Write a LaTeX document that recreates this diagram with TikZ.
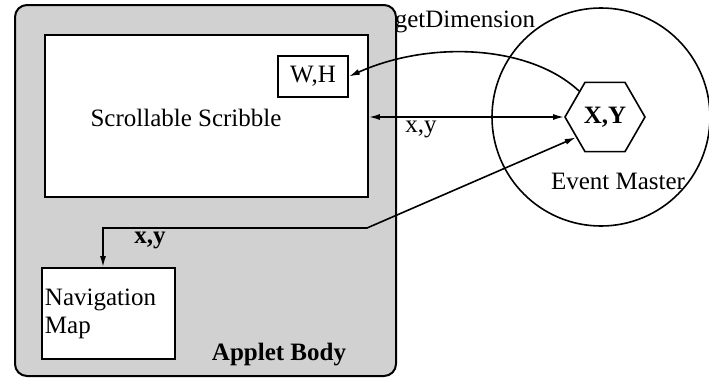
\documentclass[tikz,border=0pt]{standalone}
\usepackage{fontspec}
\setmainfont{Liberation Serif}
\usetikzlibrary{arrows.meta,shapes.geometric}

\tikzset{
	box/.style={draw, fill=white, line width=0.9pt, inner sep=0pt},
	link/.style={line width=0.8pt},
	lbl/.style={inner sep=1pt}
}

\begin{document}
\begin{tikzpicture}[x=0.5pt, y=-0.5pt, >={Latex[length=5.5pt,width=3pt]},
	font=\fontsize{12.5}{14}\selectfont]
	\useasboundingbox (0,0) rectangle (709,381);
	
	% Applet body
	\node[draw, fill=black!18, line width=1pt, rounded corners=6pt, minimum width=190.5pt,
		minimum height=185.5pt, inner sep=0pt] (applet) at (205.5,190.5) {};
	\node[lbl, font=\fontsize{12.5}{14}\selectfont\bfseries] (appletlbl) at (279,355) {Applet Body};
	
	% Scrollable Scribble
	\node[box, minimum width=161.5pt, minimum height=81pt] (scroll) at (206.5,116) {};
	\node[lbl] (scrolllbl) at (186,118) {Scrollable Scribble};
	\node[box, minimum width=35pt, minimum height=20.5pt] (wh) at (313,76.5) {W,H};
	
	% Navigation Map
	\node[box, minimum height=45.5pt, text width=63.5pt, inner xsep=1.5pt, align=left]
		(nav) at (108.5,313.5) {Navigation\\Map};
	
	% Event Master
	\node[draw, circle, line width=0.8pt, minimum size=109pt, inner sep=0pt] (em) at (601,117) {};
	\node[draw, regular polygon, regular polygon sides=6, line width=0.8pt, minimum size=40pt,
		inner sep=0pt, font=\fontsize{12.5}{14}\selectfont\bfseries] (xy) at (605,117) {X,Y};
	\node[lbl] (emlbl) at (618,181) {Event Master};
	
	% Verbindungen
	\node[lbl] (getdim) at (465,22) {getDimension};
	\draw[link, ->] (xy.135) .. controls (530,45) and (430,40) .. (wh.east);
	\draw[link, <->] (xy.west) -- (xy.west -| scroll.east);
	\node[lbl] (xylbl) at (421,129) {x,y};
	\coordinate (bend) at (367,228);
	\draw[link, <->] (xy.215) -- (bend) -| ([xshift=-2.75pt]nav.north);
	\node[lbl, font=\fontsize{12.5}{14}\selectfont\bfseries] (navlbl) at (150,240) {x,y};
\end{tikzpicture}
\end{document}
